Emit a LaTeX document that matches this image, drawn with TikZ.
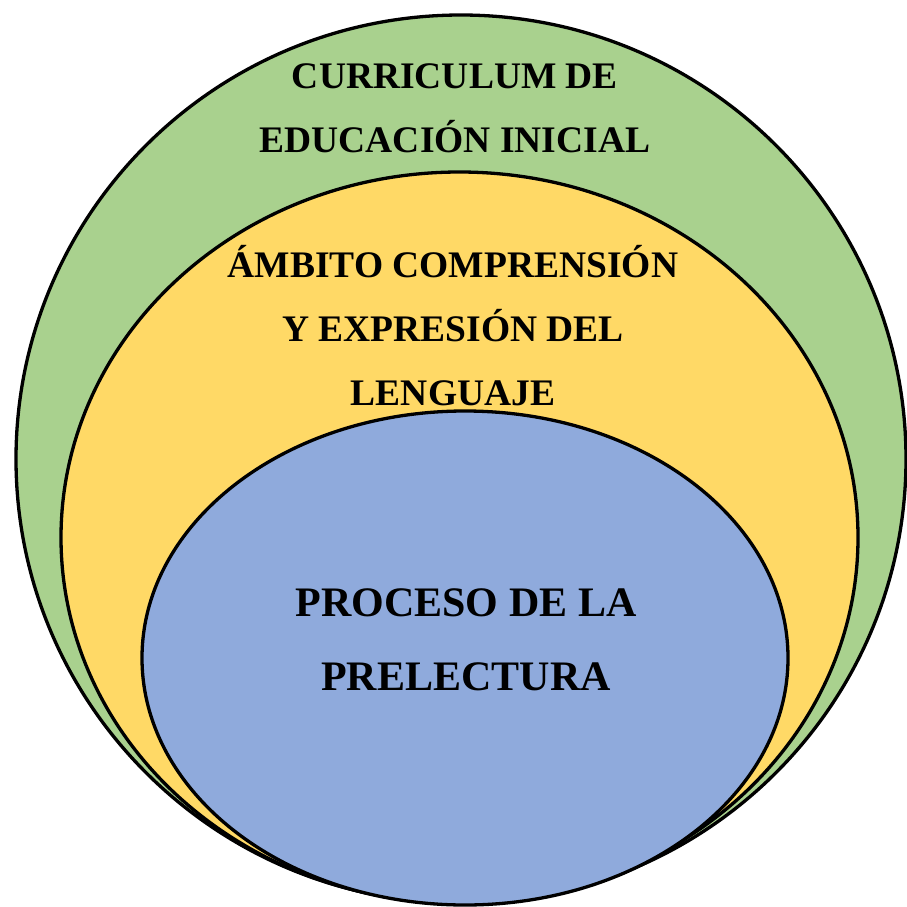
\documentclass[tikz,border=0pt]{standalone}
\usepackage{fontspec}
\setmainfont{Liberation Serif}
\definecolor{verde}{HTML}{A9D18E}
\definecolor{amarillo}{HTML}{FFD966}
\definecolor{azul}{HTML}{8FAADC}
\tikzset{
    capa/.style={draw=black, line width=3.3pt},
    rotulo/.style={align=center, anchor=base, font=\bfseries\fontsize{37.5}{64}\selectfont}
}
\begin{document}
\begin{tikzpicture}[x=1pt, y=-1pt]
        \useasboundingbox (0,0) rectangle (906,907);
        \filldraw[capa, fill=verde] (461,459) ellipse [x radius=445, y radius=444];
        \filldraw[capa, fill=amarillo] (459.5,537.5) ellipse [x radius=398.5, y radius=365.5];
        \filldraw[capa, fill=azul] (465,658) ellipse [x radius=323, y radius=247];

        \node[rotulo] (curriculo) at (455,152) {CURRICULUM DE\\EDUCACIÓN INICIAL};
        \node[rotulo] (ambito) at (453,405) {ÁMBITO COMPRENSIÓN\\Y EXPRESIÓN DEL\\LENGUAJE};
        \node[rotulo, font=\bfseries\fontsize{42}{74}\selectfont] (proceso) at (466,690) {PROCESO DE LA\\PRELECTURA};
    \end{tikzpicture}
\end{document}
